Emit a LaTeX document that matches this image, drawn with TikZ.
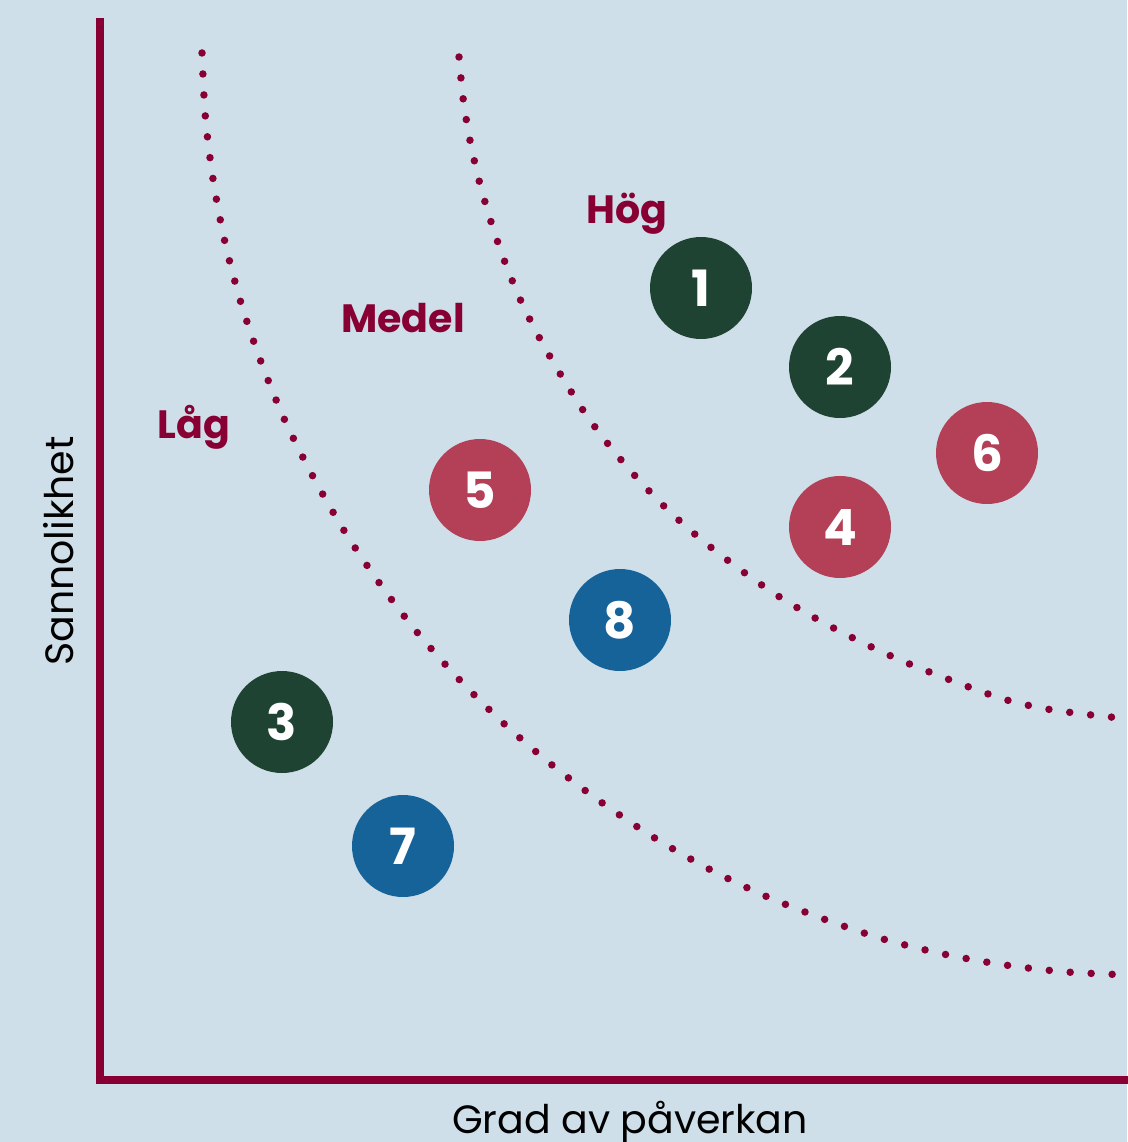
\documentclass[tikz,border=0pt]{standalone}
\usepackage{fontspec}
\setmainfont{Poppins}
\definecolor{bgc}{RGB}{207,223,233}
\definecolor{axisc}{RGB}{136,0,51}
\definecolor{greenc}{RGB}{31,67,50}
\definecolor{pinkc}{RGB}{180,64,88}
\definecolor{bluec}{RGB}{22,99,153}
\tikzset{
  axisline/.style={draw=axisc, line width=8.5pt, line join=miter},
  dotline/.style={draw=axisc, line width=7.5pt, line cap=round, dash pattern=on 0pt off 21pt},
  risk/.style={circle, minimum size=102pt, inner sep=0pt, text=white,
    font=\fontsize{50}{54}\selectfont\bfseries},
  lvl/.style={text=axisc, anchor=base, inner sep=0pt, font=\fontsize{39.5}{44}\selectfont\bfseries},
  axlabel/.style={text=black, anchor=base, inner sep=0pt, font=\fontsize{39.5}{44}\selectfont}
}
\begin{document}
\begin{tikzpicture}[x=1pt,y=-1pt]
\fill[bgc] (0,0) rectangle (1127,1142);
\useasboundingbox (0,0) rectangle (1127,1142);
\draw[axisline] (100,18) -- (100,1080) -- (1132,1080);
\draw[dotline] plot[smooth, tension=0.5] coordinates {(202,53) (205.3,116) (213,179) (224.7,241) (240.7,302) (260.7,361) (284.7,420) (312.7,476) (344.3,531) (379.3,583) (417.7,633) (459.7,680) (504.3,724) (552,765) (602.3,803) (654.7,838) (709,869) (765.3,896) (823.7,919) (883,939) (943.3,954) (1005,965) (1067,972) (1130,975)};
\draw[dotline] plot[smooth, tension=0.5] coordinates {(459,57) (463.3,100) (470.3,142) (479.7,183) (491.7,224) (506,265) (522.3,304) (541.7,342) (563.3,379) (586.3,415) (612,449) (639.7,481) (670,512) (703,541) (738,568) (775,594) (815,618) (857,640) (900,660) (945,678) (1000,698) (1041,708) (1083,714) (1130,719)};
\node[lvl] (hog) at (627,223) {Hög};
\node[lvl] (medel) at (403,332) {Medel};
\node[lvl] (lag) at (194,438) {Låg};
\node[risk, fill=greenc] (n1) at (701,288) {1};
\node[risk, fill=greenc] (n2) at (840,367) {2};
\node[risk, fill=greenc] (n3) at (282,722) {3};
\node[risk, fill=pinkc] (n4) at (840,527) {4};
\node[risk, fill=pinkc] (n5) at (480,490) {5};
\node[risk, fill=pinkc] (n6) at (987,453) {6};
\node[risk, fill=bluec] (n7) at (403,846) {7};
\node[risk, fill=bluec] (n8) at (620,620) {8};
\node[axlabel, rotate=90] (ylab) at (73,551) {Sannolikhet};
\node[axlabel] (xlab) at (630,1133) {Grad av påverkan};
\end{tikzpicture}
\end{document}
